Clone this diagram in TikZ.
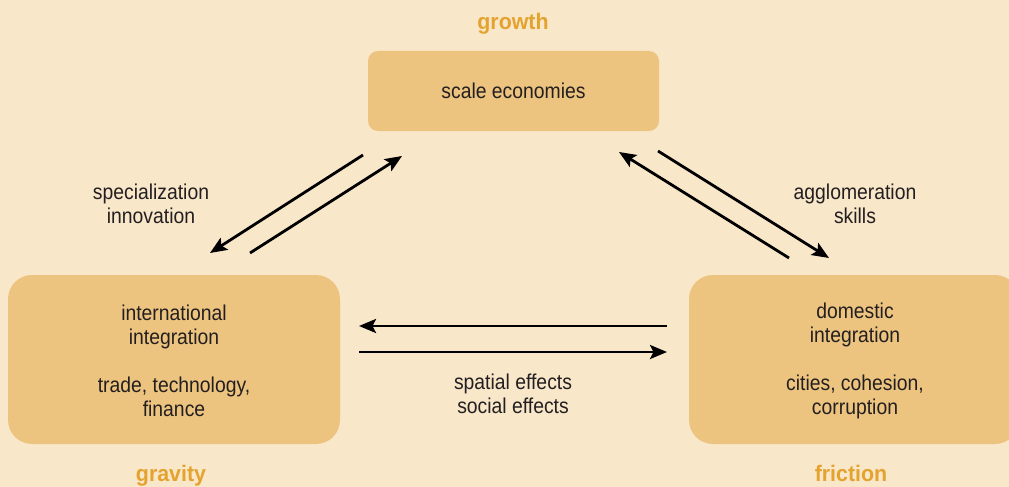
\documentclass[tikz,border=0pt]{standalone}
\usepackage{fontspec}
\setmainfont[FakeStretch=0.9]{Liberation Sans}
\newfontfamily\labelfont[FakeStretch=0.95]{Liberation Sans}
\usetikzlibrary{arrows.meta}
\definecolor{bgc}{HTML}{F9E7CA}
\definecolor{boxc}{HTML}{EDC47F}
\definecolor{lblc}{HTML}{E4A32F}
\definecolor{txtc}{HTML}{231F20}
\begin{document}
\begin{tikzpicture}[x=1pt,y=-1pt,
  box/.style={fill=boxc, draw=none, rounded corners=#1, inner sep=0pt, text=txtc,
    font=\fontsize{21.5}{24}\selectfont, align=center},
  tag/.style={text=lblc, font=\labelfont\bfseries\fontsize{22.5}{24}\selectfont, inner sep=0pt, anchor=base},
  note/.style={text=txtc, font=\fontsize{21.5}{24}\selectfont, align=center, inner sep=0pt},
  conn/.style={line width=2.8pt, draw=black, -{Stealth[length=17pt,width=14pt,inset=3.5pt]}}]
\fill[bgc] (0,0) rectangle (1009,487);
\useasboundingbox (0,0) rectangle (1009,487);
\clip (0,0) rectangle (1009,487);
% boxes
\node[box=10pt, minimum width=291pt, minimum height=80pt] (top) at (513.5,91) {scale economies};
\node[box=24pt, minimum width=332pt, minimum height=169pt] (left) at (174,359.5) {};
\node[box=24pt, minimum width=330pt, minimum height=169pt] (right) at (854,359.5) {};
\node[note] (lefttxt) at (174,361) {international\\integration\\[24pt]trade, technology,\\finance};
\node[note] (righttxt) at (855,361) {domestic\\integration\\[24pt]cities, cohesion,\\corruption};
% tags
\node[tag] (growth) at (513,30) {growth};
\node[tag] (gravity) at (171,481) {gravity};
\node[tag] (friction) at (851,481) {friction};
% arrow labels
\node[note] (spec) at (151,204) {specialization\\innovation};
\node[note] (aggl) at (855,204) {agglomeration\\skills};
\node[note] (spat) at (513,394) {spatial effects\\social effects};
% arrow end coordinates
\coordinate (a1s) at (363,155); \coordinate (a1e) at (210,253);
\coordinate (a2s) at (250,253); \coordinate (a2e) at (402,156);
\coordinate (b1s) at (658,151); \coordinate (b1e) at (829,258);
\coordinate (b2s) at (789,258); \coordinate (b2e) at (619,152);
\coordinate (c1s) at (667,326); \coordinate (c1e) at (359,326);
\coordinate (c2s) at (359,352); \coordinate (c2e) at (667,352);
\draw[conn] (a1s) -- (a1e);
\draw[conn] (a2s) -- (a2e);
\draw[conn] (b1s) -- (b1e);
\draw[conn] (b2s) -- (b2e);
\draw[conn] (c1s) -- (c1e);
\draw[conn] (c2s) -- (c2e);
\end{tikzpicture}
\end{document}
